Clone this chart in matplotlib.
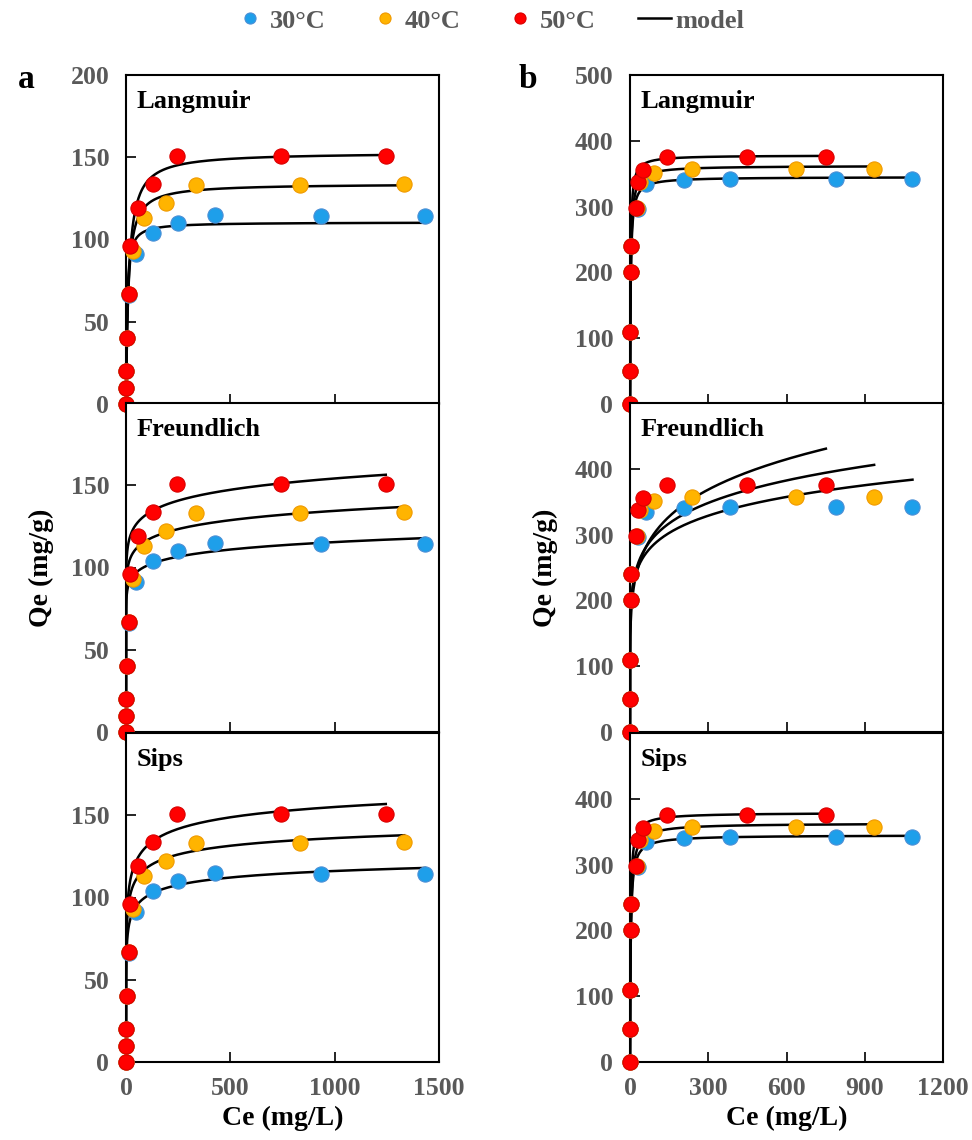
import numpy as np
import matplotlib
matplotlib.use("Agg")
import matplotlib.pyplot as plt
from matplotlib.lines import Line2D

plt.rcParams['font.family'] = ['Liberation Serif', 'DejaVu Serif']
plt.rcParams['font.weight'] = 'bold'

temps = ['30°C', '40°C', '50°C']
face = ['#1E9FEA', '#FFB400', '#FF0000']
edge = ['#4A8FD6', '#F09A00', '#D80000']
grey = '#595959'

# panel a: measured points
ce_a = [
    [0, 0.3, 0.8, 3, 14, 48, 131, 250, 427, 933, 1433],
    [0, 0.3, 0.8, 3, 13, 32, 88, 191, 334, 836, 1333],
    [0, 0.3, 0.8, 3, 14, 19, 59, 131, 245, 744, 1245],
]
qe_a = [
    [0, 10, 20, 40, 66, 91, 104, 110, 115, 114, 114],
    [0, 10, 20, 40, 67, 93, 113, 122, 133, 133, 134],
    [0, 10, 20, 40, 67, 96, 119, 134, 151, 151, 151],
]
# panel b: measured points
ce_b = [
    [0, 0.3, 0.8, 2, 3, 32, 60, 207, 383, 788, 1083],
    [0, 0.3, 0.8, 2, 3, 25, 38, 92, 236, 638, 936],
    [0, 0.3, 0.8, 2, 3, 23, 29, 48, 143, 449, 751],
]
qe_b = [
    [0, 50, 110, 200, 240, 297, 334, 340, 342, 342, 342],
    [0, 50, 110, 200, 240, 298, 337, 351, 357, 357, 357],
    [0, 50, 110, 200, 240, 298, 337, 355, 376, 376, 375],
]

# fitted model parameters
lang_a = [(110.5, 0.21), (134.0, 0.094), (153.0, 0.075)]     # qm, KL
freu_a = [(77.5, 0.0577), (87.6, 0.062), (97.7, 0.066)]      # KF, 1/n
sips_a = [(137.1, 0.30, 0.30), (160.7, 0.30, 0.30), (189.5, 0.15, 0.30)]  # qm, Ks, n
lang_b = [(345.0, 0.39), (362.0, 0.38), (378.0, 0.52)]
freu_b = [(165.8, 0.12), (161.2, 0.135), (139.7, 0.17)]
sips_b = [(345.0, 0.40, 0.92), (363.0, 0.36, 0.92), (379.0, 0.50, 0.92)]

models = ['Langmuir', 'Freundlich', 'Sips']


def langmuir(c, p):
    return p[0] * p[1] * c / (1 + p[1] * c)


def freundlich(c, p):
    return p[0] * c ** p[1]


def sips(c, p):
    t = (p[1] * c) ** p[2]
    return p[0] * t / (1 + t)


funcs = [langmuir, freundlich, sips]
params_a = [lang_a, freu_a, sips_a]
params_b = [lang_b, freu_b, sips_b]

fig = plt.figure(figsize=(9.72, 11.4), dpi=100)

lefts = [126 / 972, 630 / 972]
w = 313 / 972
tops = [75, 403, 733]
h = 329 / 1140

cols = [
    dict(ce=ce_a, qe=qe_a, params=params_a, xmax=1500, xt=[0, 500, 1000, 1500],
         ymax=200, yt=[0, 50, 100, 150, 200], yt2=[0, 50, 100, 150]),
    dict(ce=ce_b, qe=qe_b, params=params_b, xmax=1200, xt=[0, 300, 600, 900, 1200],
         ymax=500, yt=[0, 100, 200, 300, 400, 500], yt2=[0, 100, 200, 300, 400]),
]

for ci, col in enumerate(cols):
    for r in range(3):
        ax = fig.add_axes([lefts[ci], 1 - (tops[r] + 329) / 1140, w, h])
        for i in range(3):
            cmax = max(col['ce'][i])
            c = np.concatenate([[0], np.geomspace(0.01, cmax, 400)])
            q = funcs[r](c, col['params'][r][i])
            ax.plot(c, q, color='black', lw=1.8, zorder=2)
        for i in range(3):
            ax.scatter(col['ce'][i], col['qe'][i], s=120, c=face[i],
                       edgecolors=edge[i], linewidths=0.8, zorder=3, clip_on=False)
        ax.set_xlim(0, col['xmax'])
        ax.set_ylim(0, col['ymax'])
        ax.set_xticks(col['xt'])
        ax.set_yticks(col['yt'] if r == 0 else col['yt2'])
        ax.tick_params(direction='in', length=7, width=1.2, colors='black',
                       labelcolor=grey, labelsize=18.5, pad=12)
        ax.tick_params(axis='x', pad=11)
        if r < 2:
            ax.tick_params(axis='x', labelbottom=False)
        for s in ax.spines.values():
            s.set_linewidth(1.5)
        ax.text(0.035, 0.955, models[r], transform=ax.transAxes, ha='left',
                va='top', fontsize=19, fontweight='bold', color='black')
        if r == 1:
            ax.set_ylabel('Qe (mg/g)', fontsize=20, fontweight='bold', labelpad=12)
        if r == 2:
            ax.set_xlabel('Ce (mg/L)', fontsize=20, fontweight='bold', labelpad=4)

fig.text(18 / 972, 1 - 80 / 1140, 'a', fontsize=24, fontweight='bold', va='center')
fig.text(519 / 972, 1 - 80 / 1140, 'b', fontsize=24, fontweight='bold', va='center')

handles = [Line2D([], [], ls='none', marker='o', ms=8, mfc=face[i], mec=edge[i],
                  mew=0.8) for i in range(3)]
handles.append(Line2D([], [], color='black', lw=1.8))
leg = fig.legend(handles, temps + ['model'], loc='center', ncol=4,
                 bbox_to_anchor=(0.5026, 1 - 21 / 1140), frameon=False,
                 fontsize=19, handlelength=1.25, handletextpad=0.15, columnspacing=1.6)
for t in leg.get_texts():
    t.set_color(grey)

fig.savefig('out.png', dpi=100)
